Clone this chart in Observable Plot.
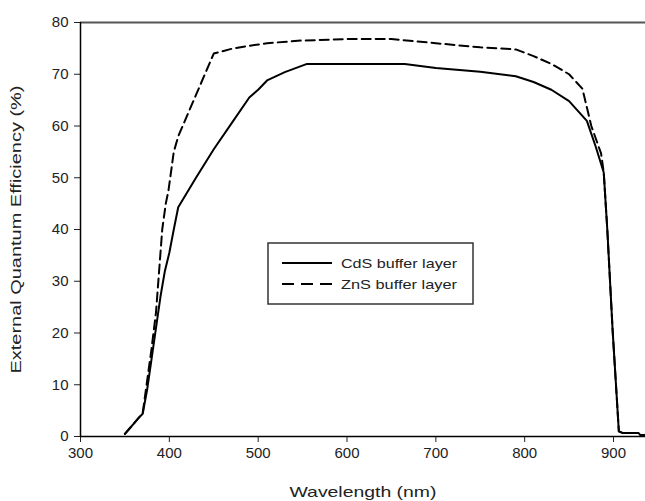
<!DOCTYPE html>
<html>
<head>
<meta charset="utf-8">
<script src="https://cdn.jsdelivr.net/npm/d3@7"></script>
<script src="https://cdn.jsdelivr.net/npm/@observablehq/plot@0.6"></script>
<style>
  html, body { margin: 0; padding: 0; background: #fff; }
  #wrap { position: relative; width: 645px; height: 501px; overflow: hidden; }
  #legend { position: absolute; left: 0; top: 0; }
</style>
</head>
<body>
<div id="wrap"></div>
<script>
// Wavelength (nm) and EQE (%)
const cdsWavelength = [350, 355, 360, 365, 370, 375, 380, 385, 390, 395, 400, 405, 410, 430, 450, 470, 490, 500, 510, 530, 555, 600, 665, 700, 750, 790, 810, 830, 850, 870, 880, 889, 893, 899, 906, 910, 928, 930, 936];
const cdsEQE        = [0.5, 1.5, 2.5, 3.5, 4.4, 9, 15, 21, 27, 32, 35.5, 40, 44.3, 50, 55.5, 60.5, 65.5, 67, 68.8, 70.4, 72, 72, 72, 71.2, 70.5, 69.6, 68.5, 67, 64.8, 61, 56, 51, 40, 20.5, 1, 0.7, 0.7, 0.3, 0.3];

const znsWavelength = [350, 360, 370, 380, 385, 392, 396, 399, 405, 410, 420, 430, 440, 450, 472, 490, 510, 548, 600, 650, 700, 750, 790, 810, 830, 850, 865, 875, 886, 889, 893, 899, 906, 910, 928, 930, 936];
const znsEQE        = [0.5, 2.5, 4.5, 17, 24, 40, 45, 47.5, 55, 58, 62, 66, 70, 74, 75, 75.5, 76, 76.5, 76.8, 76.8, 76, 75.2, 74.8, 73.5, 72, 70, 67.2, 60, 54.7, 51, 40, 20.5, 1, 0.7, 0.7, 0.3, 0.3];

const xTicks = [300, 400, 500, 600, 700, 800, 900];
const yTicks = [0, 10, 20, 30, 40, 50, 60, 70, 80];
const seriesNames = ["CdS buffer layer", "ZnS buffer layer"];

const cds = cdsWavelength.map((w, i) => ({w, v: cdsEQE[i]}));
const zns = znsWavelength.map((w, i) => ({w, v: znsEQE[i]}));

const chart = Plot.plot({
  width: 645,
  height: 501,
  marginLeft: 80,
  marginRight: 0,
  marginTop: 22,
  marginBottom: 65,
  style: {fontFamily: "'Liberation Sans', Arial, sans-serif", fontSize: "15px", color: "#222", background: "#fff"},
  x: {domain: [300, 936]},
  y: {domain: [0, 80]},
  marks: [
    Plot.axisX({ticks: xTicks, tickSize: 6, tickPadding: 5, tickFormat: d => String(d),
      label: "Wavelength (nm)", labelAnchor: "center", labelArrow: "none", labelOffset: 60}),
    Plot.axisY({ticks: yTicks, tickSize: 6, tickPadding: 6, tickFormat: d => String(d),
      label: "External Quantum Efficiency (%)", labelAnchor: "center", labelArrow: "none", labelOffset: 70}),
    Plot.ruleY([80], {stroke: "#555", strokeWidth: 2}),
    Plot.ruleX([300], {stroke: "#000", strokeWidth: 1.5}),
    Plot.ruleY([0], {stroke: "#000", strokeWidth: 1.5}),
    Plot.line(cds, {x: "w", y: "v", stroke: "#000", strokeWidth: 2}),
    Plot.line(zns, {x: "w", y: "v", stroke: "#000", strokeWidth: 2, strokeDasharray: "9,5"})
  ]
});

document.getElementById("wrap").appendChild(chart);

// stretch axis label text along reading direction to match reference
const xl = chart.querySelector('g[aria-label="x-axis label"] text');
if (xl) { xl.setAttribute("textLength", 147); xl.setAttribute("lengthAdjust", "spacingAndGlyphs"); }
const yl = chart.querySelector('g[aria-label="y-axis label"] text');
if (yl) { yl.setAttribute("textLength", 288); yl.setAttribute("lengthAdjust", "spacingAndGlyphs"); }

// legend
const ns = "http://www.w3.org/2000/svg";
const leg = document.createElementNS(ns, "svg");
leg.setAttribute("id", "legend");
leg.setAttribute("width", 645);
leg.setAttribute("height", 501);
leg.innerHTML = `
  <rect x="268" y="243" width="205" height="61" fill="#fff" stroke="#333" stroke-width="1.5"/>
  <line x1="282" x2="332" y1="263" y2="263" stroke="#000" stroke-width="2"/>
  <line x1="282" x2="332" y1="284" y2="284" stroke="#000" stroke-width="2" stroke-dasharray="12,7"/>
  <text x="341" y="268" font-family="'Liberation Sans', Arial, sans-serif" font-size="13" fill="#222" textLength="116" lengthAdjust="spacingAndGlyphs">${seriesNames[0]}</text>
  <text x="341" y="289" font-family="'Liberation Sans', Arial, sans-serif" font-size="13" fill="#222" textLength="116" lengthAdjust="spacingAndGlyphs">${seriesNames[1]}</text>
`;
document.getElementById("wrap").appendChild(leg);
</script>
</body>
</html>
